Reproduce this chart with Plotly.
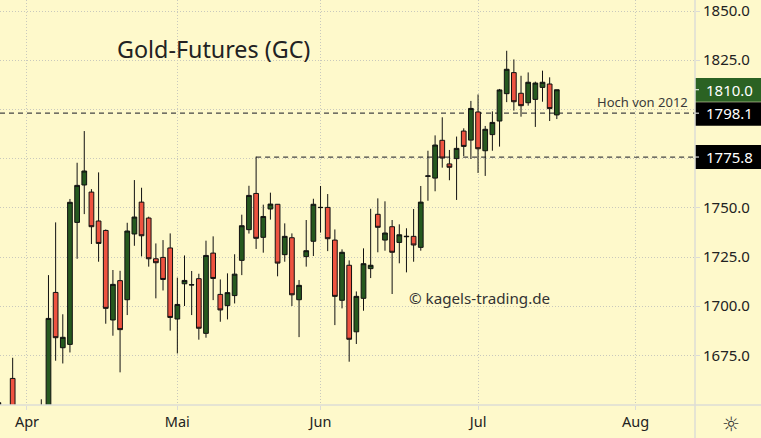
import plotly.graph_objects as go

session = [-2,0,4,5,6,7,8,9,10,11,12,13,14,15,16,17,18,19,20,21,22,23,24,25,26,27,28,29,30,31,32,33,34,35,36,37,38,39,
           40,41,42,43,44,45,46,47,48,49,50,51,52,53,54,55,56,57,58,59,60,61,62,63,64,65,66,67,68,69,70,71,72,73,74,75,76]
open_ = [1640,1663.3,1638,1640,1707.0,1678.9,1680.6,1742.6,1761.6,1758.0,1743.3,1738.5,1693.0,1713.0,1703.3,1736.7,1752.9,1744.8,1724.1,1724.8,1729.6,1693.5,1711.4,1710.8,1714.0,1686.2,1727.0,1706.0,1700.3,1705.4,1723.3,1738.9,1757.3,1735.0,1749.4,1751.8,1726.2,1734.8,
         1703.3,1725.2,1733.0,1750.1,1750.2,1733.6,1703.0,1720.8,1687.0,1704.0,1719.1,1746.7,1733.6,1740.4,1732.4,1735.3,1735.5,1729.9,1766.0,1765.1,1784.3,1772.3,1775.0,1789.0,1784.4,1798.7,1779.0,1787.2,1794.1,1808.0,1818.7,1808.2,1803.4,1805.1,1811.2,1812.9,1797.2]
high = [1652,1673.8,1652.7,1715.8,1742.6,1695.9,1754.5,1772.9,1789.0,1759.5,1768.0,1739.0,1718.4,1718.0,1742.4,1764.1,1760.2,1745.5,1731.9,1733.6,1737.0,1714.5,1725.8,1717.9,1716.5,1733.3,1735.5,1713.6,1716.7,1726.4,1746.5,1761.2,1776.0,1751.6,1757.7,1751.9,1742.1,1737.0,
        1713.3,1743.8,1754.6,1761.1,1757.0,1739.0,1728.9,1723.3,1707.5,1729.4,1749.5,1754.8,1753.3,1743.8,1741.6,1739.6,1749.4,1761.1,1779.0,1786.8,1796.0,1779.4,1786.2,1790.4,1804.3,1807.6,1791.6,1799.0,1810.4,1829.8,1825.4,1817.1,1818.8,1814.1,1819.7,1816.3,1810.0]
low = [1635,1635,1632,1635,1672.3,1670.9,1676.5,1724.1,1746.8,1731.6,1722.6,1691.1,1685.0,1666.4,1695.5,1730.7,1725.3,1720.1,1704.0,1708.0,1687.6,1676.0,1700.1,1695.5,1683.0,1684.0,1703.1,1692.1,1693.3,1701.4,1715.8,1736.9,1729.1,1727.2,1744.0,1715.2,1722.6,1700.1,
       1684.3,1720.1,1725.5,1737.4,1728.0,1690.4,1698.9,1671.8,1680.8,1697.7,1714.3,1727.4,1728.2,1706.2,1721.8,1717.2,1722.6,1728.2,1753.6,1758.4,1770.4,1764.0,1754.0,1776.3,1774.8,1767.7,1766.2,1779.0,1781.1,1803.7,1799.4,1796.3,1801.9,1791.1,1803.9,1794.1,1795.1]
close = [1651,1640,1645,1693.8,1684.0,1684.2,1752.8,1761.4,1768.7,1740.4,1731.9,1698.9,1711.1,1688.1,1738.2,1745.3,1735.8,1724.1,1722.1,1713.6,1694.3,1700.9,1713.1,1710.9,1688.8,1725.8,1714.1,1698.1,1706.9,1716.3,1740.9,1756.3,1734.5,1745.6,1751.9,1721.9,1735.5,1705.8,
         1710.6,1728.2,1751.8,1750.2,1734.3,1705.0,1727.4,1683.2,1705.0,1721.6,1720.8,1740.1,1737.2,1727.4,1736.3,1735.5,1731.1,1752.9,1766.2,1781.9,1775.3,1770.6,1780.2,1781.2,1800.5,1780.0,1789.9,1793.4,1809.9,1820.4,1803.9,1801.9,1813.8,1813.4,1813.8,1800.4,1810.0]

month_sessions = [2, 23, 43, 65, 87]
month_labels = ["Apr", "Mai", "Jun", "Jul", "Aug"]
price_ticks = [1675, 1700, 1725, 1750, 1775, 1800, 1825, 1850]
price_labels = ["1675.0", "1700.0", "1725.0", "1750.0", "", "", "1825.0", "1850.0"]
high_2012 = 1798.1
level_2 = 1775.8
level_2_start = 34
last_price = 1810.0

W, H = 761, 438
PW, PH = 695, 405
BG = "#fef9cb"
GRID = "#c9c9bd"
AXIS = "#dcdcd6"
X_RANGE = [-1.77, 95.3]
Y_RANGE = [1649.8, 1855.6]
FONT = "Noto Sans"
UNIT = PH / (Y_RANGE[1] - Y_RANGE[0])
px = lambda p: p / UNIT

fig = go.Figure(go.Candlestick(
    x=session, open=open_, high=high, low=low, close=close,
    increasing=dict(line=dict(color="#111111", width=1), fillcolor="#26591f"),
    decreasing=dict(line=dict(color="#111111", width=1), fillcolor="#ee5340"),
    whiskerwidth=0, hoverinfo="skip", showlegend=False,
))

shapes = []
for lvl, start in ((high_2012, X_RANGE[0]), (level_2, level_2_start)):
    shapes.append(dict(type="line", xref="x", yref="y", x0=start, x1=X_RANGE[1], y0=lvl, y1=lvl, layer="below",
                       line=dict(color="#444444", width=1.2, dash="5px,4px")))
for lvl, col, up, down in ((last_price, "#2b6223", 11.7, 12), (high_2012, "#000000", 11, 12.5), (level_2, "#000000", 12, 12)):
    shapes.append(dict(type="rect", xref="paper", yref="y", x0=1, x1=W / PW, y0=lvl - px(down), y1=lvl + px(up),
                       fillcolor=col, line=dict(width=0), layer="above"))
    shapes.append(dict(type="line", xref="paper", yref="y", x0=1, x1=1 + 4 / PW, y0=lvl, y1=lvl,
                       line=dict(color="#ffffff", width=1), layer="above"))
shapes.append(dict(type="line", xref="paper", yref="paper", x0=1, x1=1, y0=-33 / PH, y1=1,
                   line=dict(color=AXIS, width=1.5), layer="above"))
shapes.append(dict(type="line", xref="paper", yref="paper", x0=0, x1=W / PW, y0=0, y1=0,
                   line=dict(color=AXIS, width=1.5), layer="above"))

anns = [
    dict(text="Gold-Futures (GC)", xref="paper", yref="paper", x=115 / PW, y=1 - 49 / PH, xanchor="left", yanchor="middle",
         showarrow=False, font=dict(family=FONT, size=23.3, color="#222222")),
    dict(text="© kagels-trading.de", xref="paper", yref="paper", x=407 / PW, y=1 - 298 / PH, xanchor="left", yanchor="middle",
         showarrow=False, font=dict(family=FONT, size=15.2, color="#333333")),
    dict(text="Hoch von 2012", xref="paper", yref="paper", x=690 / PW, y=1 - 102 / PH, xanchor="right", yanchor="middle",
         showarrow=False, font=dict(family=FONT, size=13, color="#3a3a3a")),
    dict(text="☼", xref="paper", yref="paper", x=731 / PW, y=1 - 424 / PH, xanchor="center", yanchor="middle",
         showarrow=False, font=dict(family="DejaVu Sans", size=20, color="#333333")),
]
for lvl in (last_price, high_2012, level_2):
    anns.append(dict(text=f"{lvl:.1f}", xref="paper", yref="y", x=1 + 34 / PW, y=lvl, xanchor="center", yanchor="middle",
                     showarrow=False, font=dict(family=FONT, size=15, color="#ffffff")))

fig.update_layout(
    width=W, height=H, autosize=False,
    margin=dict(l=0, r=W - PW, t=0, b=H - PH, pad=0),
    paper_bgcolor=BG, plot_bgcolor=BG, boxgap=0.06, showlegend=False,
    shapes=shapes, annotations=anns,
    xaxis=dict(range=X_RANGE, tickmode="array", tickvals=month_sessions, ticktext=month_labels,
               showgrid=True, griddash="1px,2px", gridcolor=GRID, gridwidth=1, zeroline=False,
               ticks="outside", ticklen=4, tickcolor=AXIS, rangeslider=dict(visible=False),
               tickfont=dict(family=FONT, size=14.5, color="#222222"), showline=False),
    yaxis=dict(range=Y_RANGE, side="right", tickmode="array", tickvals=price_ticks, ticktext=price_labels,
               showgrid=True, griddash="1px,2px", gridcolor=GRID, gridwidth=1, zeroline=False,
               ticks="outside", ticklen=4, tickcolor=AXIS,
               tickfont=dict(family=FONT, size=15, color="#222222"), showline=False),
)
fig.write_html("out.html", config=dict(displayModeBar=False, responsive=False),
               post_script="document.body.style.margin='0';document.documentElement.style.overflow='hidden';document.body.style.background='#fef9cb';")
